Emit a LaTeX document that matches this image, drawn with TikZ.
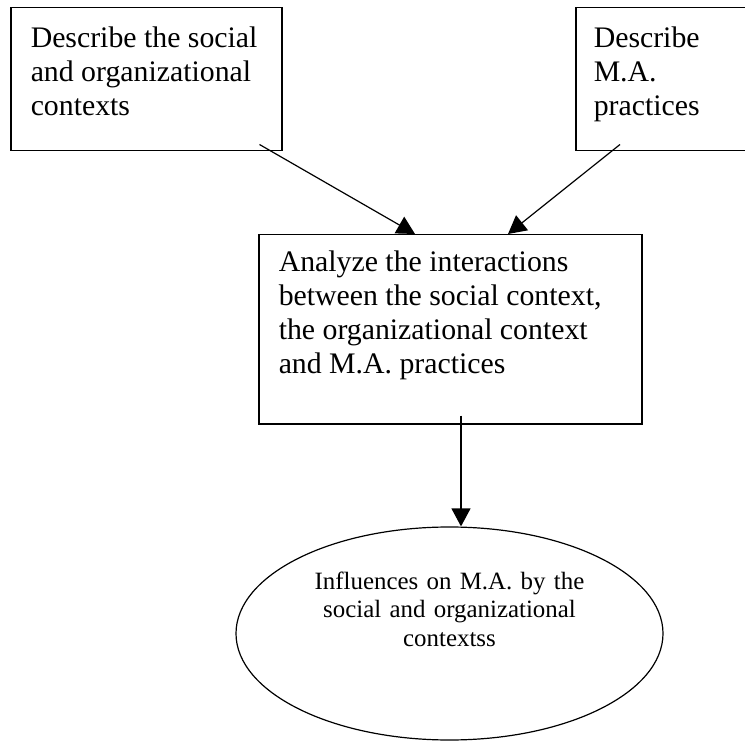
\documentclass[tikz,border=0pt]{standalone}
\usepackage{fontspec}
\setmainfont{Liberation Serif}
\usetikzlibrary{arrows.meta,shapes.geometric,calc}

% text block set flush top-left inside a box of fixed size
\newcommand{\topblock}[3]{\begin{minipage}[t][#1][t]{#2}\raggedright\strut #3\end{minipage}}

\tikzset{
  stepbox/.style={draw, line width=1.5pt, anchor=north west, inner xsep=20pt,
    font=\fontsize{29.8}{34}\selectfont},
  flow/.style={line width=1.2pt, -{Triangle[length=18pt,width=19pt]}},
  outcome/.style={draw, ellipse, line width=1.2pt, inner sep=0pt}
}

\begin{document}
\begin{tikzpicture}[x=1pt,y=-1pt]
\useasboundingbox (0,0) rectangle (745,741);

% input steps
\node[stepbox, inner ysep=16pt] (ctx) at (10,7)
  {\topblock{111pt}{231pt}{Describe the social\\ and organizational\\ contexts}};
\begin{scope}
\clip (0,0) rectangle (745,741);
\node[stepbox, inner xsep=18pt, inner ysep=16pt] (prac) at (575,7)
  {\topblock{111pt}{150pt}{Describe\\ M.A.\\ practices}};
\end{scope}

% analysis step
\node[stepbox, inner ysep=13pt] (ana) at (258,234)
  {\topblock{163pt}{343pt}{Analyze the interactions\\ between the social context,\\ the organizational context\\ and M.A. practices}};

% outcome
\node[outcome, minimum width=427pt, minimum height=213pt] (res) at (449.5,633.5) {};
\node[anchor=north, inner sep=0pt, text width=320pt, align=center,
  font=\fontsize{24.9}{28.5}\selectfont] (restext) at (449.5,569)
  {\strut Influences on M.A. by the\\ social and organizational\\ contextss};

% connector end points
\coordinate (c1) at ($(ctx.south east)+(-23,-7)$);
\coordinate (c2) at ($(prac.south west)+(45,-7)$);
\coordinate (t1) at ($(ana.north west)+(157,0)$);
\coordinate (t2) at ($(ana.north west)+(250,0)$);
\coordinate (c3) at ($(ana.south west)+(203,-9)$);

\draw[flow] (c1) -- (t1);
\draw[flow] (c2) -- (t2);
\draw[flow] (c3) -- (c3 |- res.north);
\end{tikzpicture}
\end{document}
